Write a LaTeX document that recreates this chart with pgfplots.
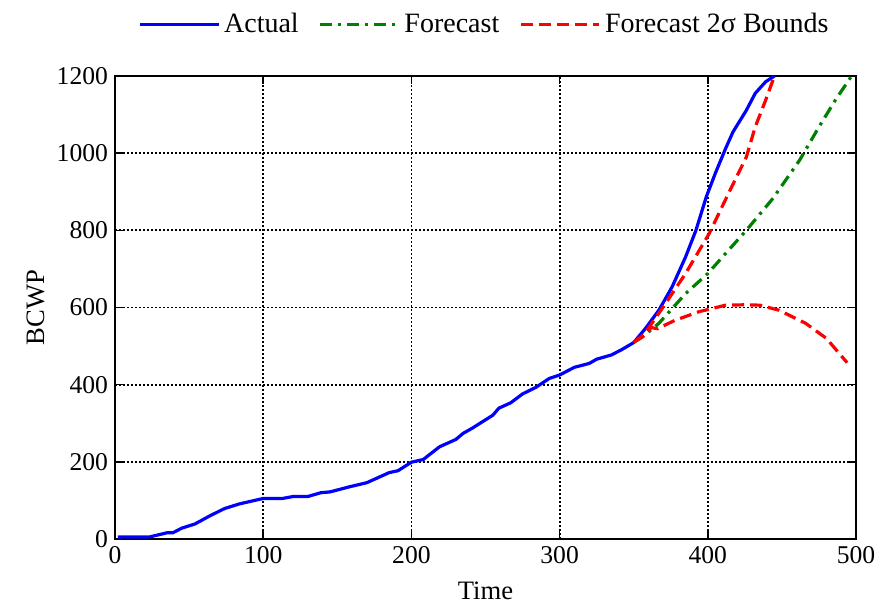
\documentclass[border=0pt]{standalone}
\usepackage{fontspec}
\setmainfont{Liberation Serif}
\usepackage{pgfplots}
\pgfplotsset{compat=1.18}
\begin{document}
\begin{tikzpicture}
\begin{axis}[
  scale only axis, width=370.5pt, height=231.5pt,
  xmin=0, xmax=500, ymin=0, ymax=1200,
  xtick={0,100,...,500}, ytick={0,200,...,1200},
  xticklabels={\textrm{0},\textrm{100},\textrm{200},\textrm{300},\textrm{400},\textrm{500}},
  yticklabels={\textrm{0},\textrm{200},\textrm{400},\textrm{600},\textrm{800},\textrm{1000},\textrm{1200}},
  tick label style={font=\fontsize{12.8}{15}\selectfont},
  label style={font=\fontsize{13.3}{16}\selectfont},
  xlabel={Time}, ylabel={BCWP},
  xlabel style={yshift=-2.5pt}, ylabel style={yshift=-1pt},
  tick align=inside, major tick length=4pt,
  axis line style={line width=1pt}, tick style={black, line width=0.8pt},
  grid=major, grid style={black, line width=0.9pt, dash pattern=on 0.9pt off 1.1pt},
  legend columns=3,
  legend style={draw=none, at={(0.5,1)}, anchor=south, yshift=16pt,
    font=\fontsize{14}{16}\selectfont, /tikz/every even column/.append style={column sep=8pt}},
  legend image code/.code={\draw[#1] (0cm,0cm) -- (1.38cm,0cm);},
]
\addplot[blue, line width=1.6pt] coordinates {
(2,5)(23,5)(35,16)(39,16)(45,28)(54,39)(64,60)(74,79)(84,91)(100,105)
(113,105)(120,110)(130,110)(139,120)(145,122)(158,135)(170,146)(185,172)
(191,177)(200,199)(208,206)(219,239)(230,258)(235,274)(241,287)(248,304)
(255,321)(259,339)(267,353)(275,376)(284,393)(293,416)(300,425)(310,445)
(320,455)(325,466)(335,477)(342,491)(350,509)(358,546)(367,593)(376,654)
(385,731)(392,800)(399,887)(405,947)(412,1012)(417,1055)(426,1111)
(432,1155)(439,1185)(445,1200)};
\addplot[color={rgb,255:red,0;green,128;blue,0}, line width=1.6pt,
  dash pattern=on 6pt off 3pt on 1.5pt off 3pt] coordinates {
(350,510)(356,524)(367,559)(385,636)(400,688)(412,740)(426,800)(444,883)
(462,982)(475,1068)(486,1137)(497,1200)};
\addplot[red, line width=1.6pt, dash pattern=on 6pt off 3pt] coordinates {
(350,510)(356,524)(370,602)(385,688)(401,792)(414,896)(426,990)(432,1068)
(439,1137)(445,1200)};
\addplot[red, line width=1.6pt, dash pattern=on 6pt off 3pt, forget plot] coordinates {
(350,510)(357,530)(362,548)(366,545)(378,567)(394,589)(412,606)(425,607)
(435,606)(448,593)(466,559)(480,520)(494,457)};
\legend{Actual, Forecast, Forecast 2σ Bounds}
\end{axis}
\path ([shift={(-57.5pt,-37pt)}]current axis.south west)
  rectangle ([shift={(14pt,38pt)}]current axis.north east);
\end{tikzpicture}
\end{document}
